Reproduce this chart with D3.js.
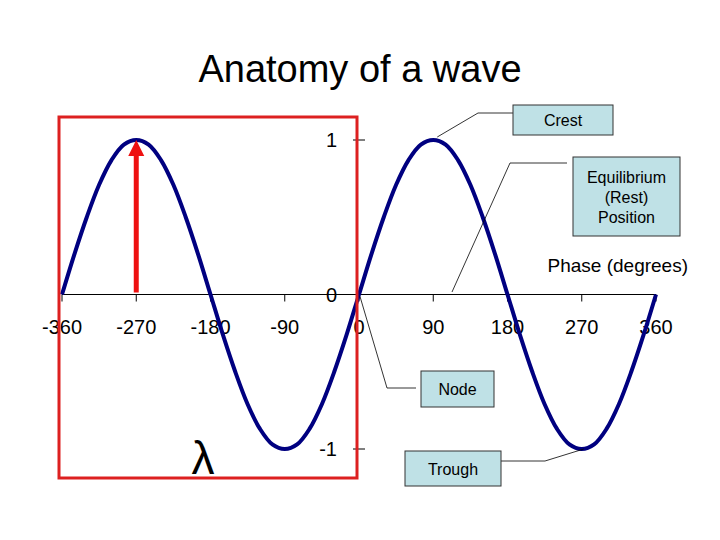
<!DOCTYPE html><html><head><meta charset="utf-8"><script src="https://cdn.jsdelivr.net/npm/d3@7"></script>
<style>body{margin:0;background:#fff}text{font-family:"Liberation Sans",Arial,sans-serif}</style></head><body>
<svg id="c" width="720" height="540"></svg>
<script>
const phases=d3.range(-360,361,15);
const amps=[0,0.26,0.5,0.71,0.87,0.97,1,0.97,0.87,0.71,0.5,0.26,0,-0.26,-0.5,-0.71,-0.87,-0.97,-1,-0.97,-0.87,-0.71,-0.5,-0.26,0,0.26,0.5,0.71,0.87,0.97,1,0.97,0.87,0.71,0.5,0.26,0,-0.26,-0.5,-0.71,-0.87,-0.97,-1,-0.97,-0.87,-0.71,-0.5,-0.26,0];
const xTicks=[-360,-270,-180,-90,0,90,180,270,360];
const yTicks=[-1,0,1];
const svg=d3.select("#c");
const x=d3.scaleLinear().domain([-360,360]).range([62,656]);
const y=d3.scaleLinear().domain([-1,1]).range([449,140]);
svg.append("text").attr("x",360).attr("y",82).attr("text-anchor","middle").attr("font-size",38).text("Anatomy of a wave");
// x axis
svg.append("line").attr("x1",x(-360)).attr("x2",x(360)).attr("y1",y(0)).attr("y2",y(0)).attr("stroke","#000");
xTicks.forEach(t=>{svg.append("line").attr("x1",x(t)).attr("x2",x(t)).attr("y1",y(0)).attr("y2",y(0)+7).attr("stroke","#000");
 svg.append("text").attr("x",x(t)).attr("y",334).attr("text-anchor","middle").attr("font-size",20).text(t);});
// y axis ticks
yTicks.forEach(t=>{svg.append("line").attr("x1",x(0)-6).attr("x2",x(0)+6).attr("y1",y(t)).attr("y2",y(t)).attr("stroke","#000");
 svg.append("text").attr("x",337).attr("y",y(t)+7).attr("text-anchor","end").attr("font-size",20).text(t);});
svg.append("text").attr("x",688).attr("y",272).attr("text-anchor","end").attr("font-size",19).text("Phase (degrees)");
// wave
svg.append("path").datum(phases.map((p,i)=>[p,amps[i]])).attr("fill","none").attr("stroke","#000080").attr("stroke-width",4)
 .attr("d",d3.line().x(d=>x(d[0])).y(d=>y(d[1])).curve(d3.curveCatmullRom));
// red box
svg.append("rect").attr("x",59).attr("y",117).attr("width",298).attr("height",361).attr("fill","none").attr("stroke","#dd2020").attr("stroke-width",3);
// arrow
svg.append("line").attr("x1",x(-270)).attr("x2",x(-270)).attr("y1",y(0)-2).attr("y2",y(1)+12).attr("stroke","#ee1111").attr("stroke-width",5);
svg.append("path").attr("d",`M${x(-270)-8},${y(1)+16}L${x(-270)},${y(1)}L${x(-270)+8},${y(1)+16}Z`).attr("fill","#ee1111");
svg.append("text").attr("x",203).attr("y",474).attr("text-anchor","middle").attr("font-size",46).attr("font-family","Liberation Serif,serif").text("λ");
// callouts
function box(x0,y0,w,h,lines){svg.append("rect").attr("x",x0).attr("y",y0).attr("width",w).attr("height",h).attr("fill","#bfe1e6").attr("stroke","#333");
 lines.forEach((l,i)=>svg.append("text").attr("x",x0+w/2).attr("y",y0+h/2+6+(i-(lines.length-1)/2)*20).attr("text-anchor","middle").attr("font-size",16).text(l));}
function lead(pts){svg.append("polyline").attr("points",pts.map(p=>p.join(",")).join(" ")).attr("fill","none").attr("stroke","#000").attr("stroke-width",0.8);}
lead([[513,113],[478,113],[x(90)+4,y(1)-3]]);
lead([[567,163],[510,163],[452,292]]);
lead([[416,388],[387,388],[x(0)+1,y(0)+2]]);
lead([[501,461],[545,461],[x(270)+2,y(-1)]]);
box(513,105,100,30,["Crest"]);
box(573,157,107,79,["Equilibrium","(Rest)","Position"]);
box(421,371,73,36,["Node"]);
box(405,451,96,35,["Trough"]);
</script></body></html>
